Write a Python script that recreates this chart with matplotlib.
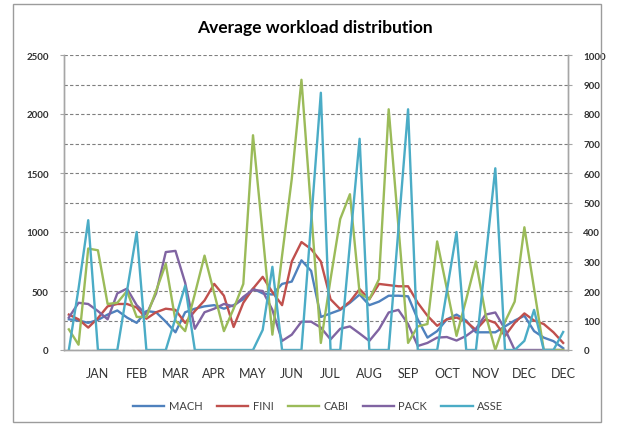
import numpy as np
import matplotlib.pyplot as plt
from matplotlib.patches import Rectangle

plt.rcParams['font.family'] = ['Lato', 'DejaVu Sans']

# weekly averages, 52 weeks
weeks = np.arange(52)
month_labels = ['JAN', 'FEB', 'MAR', 'APR', 'MAY', 'JUN', 'JUL',
                'AUG', 'SEP', 'OCT', 'NOV', 'DEC', 'DEC']

# primary axis series
mach = [260, 250, 230, 255, 300, 335, 275, 230, 330, 320, 240, 150, 320,
        350, 370, 380, 350, 380, 430, 520, 480, 470, 560, 580, 760, 670,
        280, 310, 340, 400, 470, 380, 410, 460, 460, 455, 260, 105, 160,
        260, 300, 250, 150, 150, 150, 200, 250, 290, 160, 105, 75, 15]
fini = [300, 260, 190, 270, 370, 390, 390, 360, 265, 320, 350, 340, 230,
        330, 420, 560, 460, 195, 400, 520, 620, 490, 380, 750, 915, 855,
        750, 430, 346, 410, 516, 430, 560, 550, 540, 540, 400, 290, 205,
        260, 275, 240, 170, 260, 230, 120, 230, 310, 250, 220, 150, 60]
pack = [275, 400, 390, 330, 260, 480, 520, 380, 300, 480, 830, 840, 570,
        180, 320, 350, 390, 370, 450, 510, 500, 340, 77, 130, 240, 240,
        190, 90, 180, 200, 140, 77, 176, 318, 340, 220, 34, 60, 105, 110,
        80, 120, 180, 300, 318, 176, 0, 0, 0, 0, 0, 0]

# secondary axis series
cabi = [70, 18, 344, 338, 156, 160, 200, 112, 112, 200, 292, 100, 64, 190,
        320, 192, 64, 140, 224, 728, 392, 52, 320, 580, 916, 472, 24, 240,
        444, 528, 192, 172, 240, 816, 420, 24, 80, 88, 368, 208, 48, 172,
        300, 120, 0, 96, 164, 416, 208, 0, 0, 0]
asse = [0, 208, 440, 0, 0, 0, 200, 400, 0, 0, 0, 108, 218, 0, 0, 0, 0, 0,
        0, 0, 68, 282, 0, 0, 0, 436, 872, 0, 0, 360, 716, 0, 0, 0, 408, 816,
        0, 0, 0, 200, 400, 0, 0, 308, 616, 0, 0, 31, 136, 0, 0, 61]

colors = {'MACH': '#4F81BD', 'FINI': '#C0504D', 'CABI': '#9BBB59',
          'PACK': '#8064A2', 'ASSE': '#4BACC6'}
axis_grey = '#a6a6a6'
lw = 1.7

fig = plt.figure(figsize=(6.18, 4.27), dpi=100)
fig.patches.append(Rectangle((13 / 618, 4 / 427), 588 / 618, 418 / 427,
                             transform=fig.transFigure, fill=False,
                             edgecolor='#9c9c9c', lw=1.0))

ax = fig.add_axes([64 / 618, 1 - 351 / 427, 504 / 618, 295 / 427])
ax2 = ax.twinx()

h_mach, = ax.plot(weeks, mach, color=colors['MACH'], lw=lw, label='MACH')
h_fini, = ax.plot(weeks, fini, color=colors['FINI'], lw=lw, label='FINI')
h_pack, = ax.plot(weeks, pack, color=colors['PACK'], lw=lw, label='PACK')
h_cabi, = ax2.plot(weeks, cabi, color=colors['CABI'], lw=lw, label='CABI')
h_asse, = ax2.plot(weeks, asse, color=colors['ASSE'], lw=lw, label='ASSE')

ax.set_xlim(-0.5, 51.5)
ax.set_ylim(0, 2500)
ax2.set_ylim(0, 1000)
ax.set_yticks(np.arange(0, 2501, 500))
ax.set_yticks(np.arange(0, 2501, 250), minor=True)
ax2.set_yticks(np.arange(0, 1001, 100))
ax.yaxis.grid(True, which='both', ls=(0, (3, 2)), color='#7f7f7f', lw=0.8)
ax.set_axisbelow(True)

ax.set_xticks(np.arange(3, 52, 4))
ax.set_xticklabels(month_labels)
ax.tick_params(axis='x', length=0, pad=12, labelsize=9, colors='#333333')
ax.tick_params(axis='y', which='both', length=3, color=axis_grey,
               labelsize=7, labelcolor='#303030', pad=8)
ax.tick_params(axis='y', which='minor', length=0)
ax2.tick_params(axis='y', length=3, color=axis_grey, labelsize=7,
                labelcolor='#303030', pad=8)
for lab in ax.get_yticklabels() + ax2.get_yticklabels():
    lab.set_fontweight('bold')

for a in (ax, ax2):
    a.spines['top'].set_visible(False)
    for s in ('left', 'right', 'bottom'):
        a.spines[s].set_color(axis_grey)
        a.spines[s].set_linewidth(1.0)

fig.text(0.51, 1 - 28 / 427, 'Average workload distribution',
         ha='center', va='center', fontsize=12.5, fontweight='bold')

fig.legend(handles=[h_mach, h_fini, h_cabi, h_pack, h_asse],
           loc='center', bbox_to_anchor=(0.515, 1 - 407 / 427), ncol=5,
           frameon=False, fontsize=8, handlelength=2.8, handletextpad=0.4,
           columnspacing=1.3, labelcolor='#404040')

fig.savefig('out.png', dpi=100)
